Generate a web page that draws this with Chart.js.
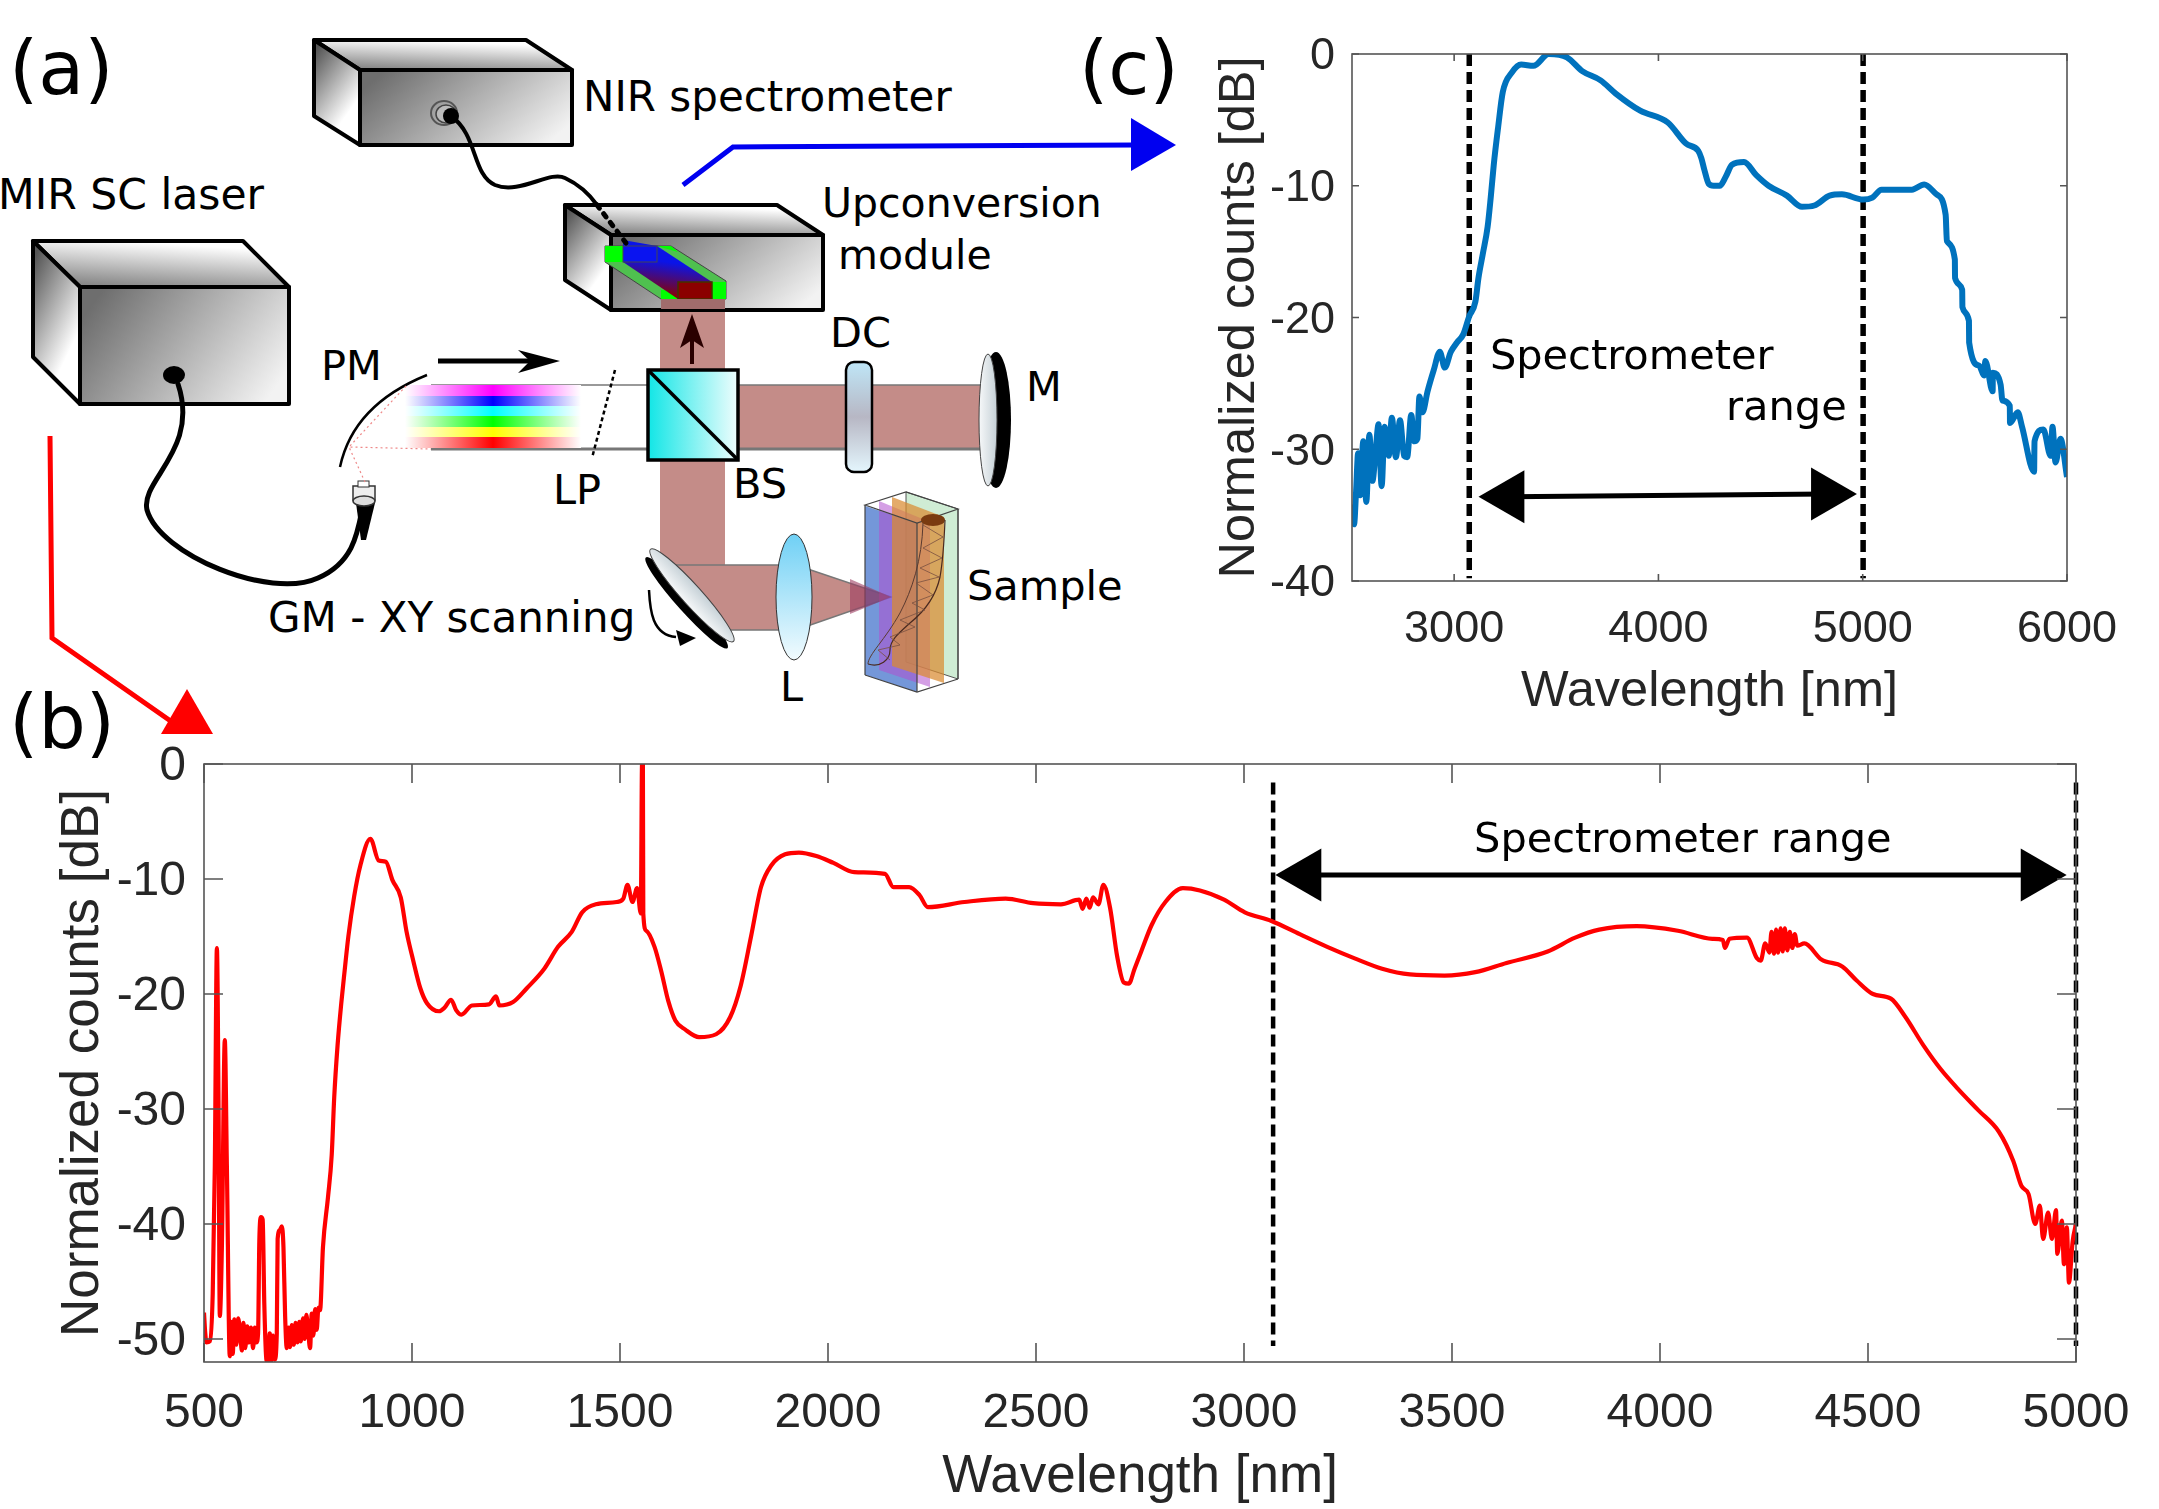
<!DOCTYPE html>
<html>
<head>
<meta charset="utf-8">
<title>MIR supercontinuum upconversion setup and spectra</title>
<script src="https://cdn.jsdelivr.net/npm/chart.js@4/dist/chart.umd.min.js"></script>
<style>
    html, body { margin: 0; padding: 0; background: #fff; }
    #page { position: relative; width: 2159px; height: 1509px; overflow: hidden; }
    #page canvas, #page svg { position: absolute; }
    #chartB { left: 0; top: 719px; }
    #chartC { left: 1180px; top: 0; }
    #setup { left: 0; top: 0; }
    #setup text { font-family: "DejaVu Sans", sans-serif; font-size: 41.5px; fill: #000; }
    #setup text.panel { font-size: 75px; }
</style>
</head>
<body>
<div id="page">
<svg id="setup" width="2159" height="1509" viewBox="0 0 2159 1509">
    <defs>
        <linearGradient id="front" x1="0" x2="1" y1="0.3" y2="0.7"><stop offset="0" stop-color="#6e6e6e"/><stop offset="1" stop-color="#f2f2f2"/></linearGradient>
        <linearGradient id="top" x1="0" x2="0.35" y1="1" y2="0"><stop offset="0" stop-color="#777"/><stop offset="1" stop-color="#fff"/></linearGradient>
        <linearGradient id="side" x1="0.2" x2="0.8" y1="0" y2="1"><stop offset="0" stop-color="#555"/><stop offset="0.75" stop-color="#fff"/></linearGradient>
        <linearGradient id="cube" x1="0" x2="1" y1="0" y2="0"><stop offset="0" stop-color="#12e6e6"/><stop offset="1" stop-color="#effdfd"/></linearGradient>
        <linearGradient id="plate" x1="0" x2="0" y1="0" y2="1"><stop offset="0" stop-color="#bfe6f7"/><stop offset="0.5" stop-color="#b7b7c4"/><stop offset="1" stop-color="#e4f6fd"/></linearGradient>
        <linearGradient id="lens" x1="0" x2="0" y1="0" y2="1"><stop offset="0" stop-color="#6fd0f5"/><stop offset="1" stop-color="#f2fbfe"/></linearGradient>
        <linearGradient id="mirror" x1="0" x2="1" y1="0" y2="0"><stop offset="0" stop-color="#f6f8f9"/><stop offset="1" stop-color="#c5d0d6"/></linearGradient>
        <linearGradient id="crystal" x1="0.5" x2="0.35" y1="0.3" y2="1"><stop offset="0.1" stop-color="#0a14e8"/><stop offset="0.9" stop-color="#8b0000"/></linearGradient>
        <linearGradient id="bMagenta"><stop offset="0" stop-color="#fff"/><stop offset="0.5" stop-color="#ff00ff"/><stop offset="1" stop-color="#fff"/></linearGradient>
        <linearGradient id="bBlue"><stop offset="0" stop-color="#fff"/><stop offset="0.5" stop-color="#0000ff"/><stop offset="1" stop-color="#fff"/></linearGradient>
        <linearGradient id="bCyan"><stop offset="0" stop-color="#fff"/><stop offset="0.5" stop-color="#00ffff"/><stop offset="1" stop-color="#fff"/></linearGradient>
        <linearGradient id="bGreen"><stop offset="0" stop-color="#fff"/><stop offset="0.5" stop-color="#00ff00"/><stop offset="1" stop-color="#fff"/></linearGradient>
        <linearGradient id="bYellow"><stop offset="0" stop-color="#fff"/><stop offset="0.5" stop-color="#ffff00"/><stop offset="1" stop-color="#fff"/></linearGradient>
        <linearGradient id="bRed"><stop offset="0" stop-color="#fff"/><stop offset="0.5" stop-color="#ff0000"/><stop offset="1" stop-color="#fff"/></linearGradient>
    </defs>

    <!-- beams -->
    <g fill="#c48c88">
        <rect x="660" y="298" width="65" height="332" />
        <rect x="738" y="385" width="245" height="64"/>
        <polygon points="660,565 796,565 891,597 796,630 725,630"/>
    </g>
    <polygon points="660,565 725,630 660,630" fill="#fff"/>
    <g stroke="#777" stroke-width="1.5" fill="none">
        <path d="M431 385H984"/><path d="M431 449H984" stroke-width="3"/>
        <path d="M660 565H796L891 597L796 630H725"/>
    </g>

    <!-- rainbow -->
    <rect x="405" y="385" width="176" height="11" fill="url(#bMagenta)"/>
    <rect x="405" y="396" width="176" height="10" fill="url(#bBlue)"/>
    <rect x="405" y="406" width="176" height="10" fill="url(#bCyan)"/>
    <rect x="405" y="416" width="176" height="11" fill="url(#bGreen)"/>
    <rect x="405" y="427" width="176" height="10" fill="url(#bYellow)"/>
    <rect x="405" y="437" width="176" height="11" fill="url(#bRed)"/>

    <!-- boxes -->
    <g stroke="#000" stroke-width="4" stroke-linejoin="round">
        <polygon points="314,40 526,40 572,70 360,70" fill="url(#top)"/>
        <polygon points="314,40 360,70 360,145 314,116" fill="url(#side)"/>
        <rect x="360" y="70" width="212" height="75" fill="url(#front)"/>
        <polygon points="33,241 243,241 289,287 80,287" fill="url(#top)"/>
        <polygon points="33,241 80,287 80,404 33,357" fill="url(#side)"/>
        <rect x="80" y="287" width="209" height="117" fill="url(#front)"/>
        <polygon points="565,205 777,205 823,235 611,235" fill="url(#top)"/>
        <polygon points="565,205 611,235 611,310 565,280" fill="url(#side)"/>
        <rect x="611" y="235" width="212" height="75" fill="url(#front)"/>
    </g>

    <!-- crystal in the upconversion module -->
    <polygon points="605,246 671,246 726,281 726,299 661,299 605,262" fill="#4fc04f" stroke="#444" stroke-width="1"/>
    <polygon points="605,246 623,246 623,262 605,262" fill="#00ff00"/>
    <polygon points="657,246 671,246 678,252" fill="#00ff00"/>
    <rect x="712" y="282" width="14" height="17" fill="#00ff00"/>
    <polygon points="661,290 678,290 678,299 661,299" fill="#00ff00"/>
    <polygon points="623,240 657,246 712,282 712,299 678,299 623,262" fill="url(#crystal)"/>
    <rect x="623" y="246" width="34" height="16" fill="#0a14f0" stroke="#445" stroke-width="1"/>
    <rect x="678" y="282" width="34" height="17" fill="#8b0000" stroke="#443300" stroke-width="1.5"/>
    <rect x="661" y="299" width="64" height="10" fill="#a06c6c"/>

    <!-- fibres -->
    <ellipse cx="444" cy="113" rx="13" ry="12" fill="none" stroke="#555" stroke-width="2"/>
    <ellipse cx="446" cy="114" rx="10" ry="9" fill="#bbb" stroke="#444" stroke-width="1.5"/>
    <ellipse cx="451" cy="116" rx="8" ry="8" fill="#000"/>
    <g fill="none" stroke="#000" stroke-linecap="round">
        <path d="M178 384C200 450 140 480 147 510C160 555 270 600 318 578C355 562 358 530 363 505" stroke-width="5"/>
        <path d="M451 116C478 135 472 175 495 185C520 195 550 170 565 178C580 185 590 195 597 205" stroke-width="4"/>
        <path d="M597 205L626 243" stroke-width="5" stroke-dasharray="4 7"/>
    </g>
    <ellipse cx="174" cy="375" rx="11" ry="9" fill="#000"/>

    <!-- collimator and parabolic mirror -->
    <polygon points="356,503 375,503 366,540 361,540" fill="#000"/>
    <rect x="353" y="486" width="22" height="14" fill="#eee" stroke="#333" stroke-width="1.5"/>
    <ellipse cx="364" cy="501" rx="11" ry="5" fill="#ddd" stroke="#333" stroke-width="1.5"/>
    <rect x="358" y="481" width="11" height="6" fill="#fff" stroke="#333" stroke-width="1"/>
    <path d="M340 467C350 420 385 392 427 375" fill="none" stroke="#000" stroke-width="2.5"/>
    <path d="M365 482L349 447L407 385M365 482L349 447L431 449" fill="none" stroke="#e88" stroke-width="1.2" stroke-dasharray="2 3"/>
    <path d="M615 370L592 458" fill="none" stroke="#000" stroke-width="2.5" stroke-dasharray="4 3"/>

    <!-- beam splitter, dichroic, mirror -->
    <rect x="648" y="370" width="90" height="90" fill="url(#cube)" stroke="#000" stroke-width="3.5"/>
    <path d="M648 370L738 460" stroke="#000" stroke-width="3.5"/>
    <rect x="846" y="362" width="26" height="110" rx="8" fill="url(#plate)" stroke="#000" stroke-width="2.5"/>
    <ellipse cx="996" cy="420" rx="15" ry="68" fill="#000"/>
    <ellipse cx="988" cy="420" rx="9" ry="66" fill="url(#mirror)" stroke="#444" stroke-width="1"/>

    <!-- arrows -->
    <path d="M692 364V325" stroke="#2a0000" stroke-width="4"/>
    <polygon points="692,314 680,348 692,340 704,348" fill="#2a0000"/>
    <path d="M438 361H545" stroke="#000" stroke-width="5"/>
    <polygon points="560,361 518,350 530,361 518,373" fill="#000"/>
    <path d="M683 185L733 147L1135 145" fill="none" stroke="#0000f0" stroke-width="5"/>
    <polygon points="1176,145 1131,118 1131,171" fill="#0000f0"/>
    <path d="M50 436L52 638L172 722" fill="none" stroke="#f00" stroke-width="5"/>
    <polygon points="187,689 161,734 213,734" fill="#f00"/>

    <!-- galvo mirror and lens -->
    <g transform="rotate(-42 689 598)">
        <ellipse cx="684" cy="600" rx="9" ry="61" fill="#000"/>
        <ellipse cx="693" cy="598" rx="10" ry="62" fill="url(#mirror)" stroke="#444" stroke-width="1"/>
    </g>
    <path d="M649 590C650 610 652 635 676 637" fill="none" stroke="#000" stroke-width="2.5"/>
    <polygon points="696,638 676,630 680,646" fill="#000"/>
    <ellipse cx="794" cy="597" rx="18" ry="63" fill="url(#lens)" stroke="#333" stroke-width="1"/>

    <!-- sample layers -->
    <polygon points="906,492 958,509 958,679 906,662" fill="#a7dcb0" fill-opacity="0.55" stroke="#555" stroke-width="1"/>
    <polygon points="865,506 917,523 917,692 865,675" fill="#2a5fc4" fill-opacity="0.65"/>
    <polygon points="879,501 930,522 930,687 879,670" fill="#b050d0" fill-opacity="0.55"/>
    <polygon points="892,497 944,517 944,683 892,666" fill="#d98a30" fill-opacity="0.72"/>
    <g fill="none" stroke="#444" stroke-width="1.2">
        <path d="M865 505L906 492L958 509L917 523Z"/>
        <path d="M865 675L917 692L958 679"/>
        <path d="M917 523V692M865 505V675M958 509V679"/>
    </g>
    <polygon points="850,579 891,597 850,614" fill="#9c3c60" fill-opacity="0.6"/>
    <ellipse cx="933" cy="520" rx="12" ry="6" fill="#7a3b10"/>
    <path d="M945 520C944 545 943 560 940 577C935 600 920 615 910 623C900 632 890 640 890 650C890 660 880 668 868 664" fill="none" stroke="#4a2a20" stroke-width="1.2"/>
    <path d="M923 523C922 560 912 590 900 613C885 640 868 655 868 664" fill="none" stroke="#5a3a30" stroke-width="1"/>
    <path d="M923 525L943 537L923 548L942 558L920 568L939 577L916 583L933 595L912 603L925 610L900 620L915 627L890 637L900 645L878 650L890 660" fill="none" stroke="#7a5040" stroke-width="0.8"/>

    <!-- labels -->
    <text class="panel" x="9" y="94">(a)</text>
    <text class="panel" x="9" y="748">(b)</text>
    <text class="panel" x="1079" y="94">(c)</text>
    <text x="583" y="111" style="font-size:42px">NIR spectrometer</text>
    <text x="-2" y="209" style="font-size:42.5px">MIR SC laser</text>
    <text x="822" y="217" style="font-size:41px">Upconversion</text>
    <text x="838" y="269" style="font-size:41px">module</text>
    <text x="321" y="380">PM</text>
    <text x="830" y="347">DC</text>
    <text x="1026" y="401">M</text>
    <text x="553" y="504">LP</text>
    <text x="733" y="498">BS</text>
    <text x="967" y="600">Sample</text>
    <text x="268" y="632" style="font-size:42px">GM - XY scanning</text>
    <text x="780" y="701">L</text>
</svg>
<canvas id="chartB" width="2159" height="790"></canvas>
<canvas id="chartC" width="979" height="740"></canvas>
</div>

<script>
// (b) full supercontinuum spectrum
var wavelengthB = [500, 503, 506, 514, 521, 526, 531, 535, 538, 543, 550, 555, 562,
    565, 569, 573, 578, 582, 587, 591, 595, 599, 604, 608, 613, 618, 622, 626, 630,
    633, 637, 641, 645, 650, 654, 658, 662, 666, 670, 675, 677, 683, 687, 691, 695, 699,
    703, 707, 711, 716, 720, 725, 729, 733, 738, 742, 746, 751, 755, 759, 763, 767, 771, 775, 779,
    786, 798, 807, 813, 821, 830, 838, 847, 861, 876, 900, 920, 937, 953, 973, 987, 1003, 1020, 1036,
    1065, 1078, 1094, 1106, 1119, 1144, 1185, 1202, 1210, 1243, 1276, 1318, 1351, 1384, 1409, 1442, 1492, 1508, 1518, 1530, 1541, 1550,
    1553, 1555, 1556, 1563, 1583, 1599, 1616, 1633, 1657, 1690, 1731, 1765, 1790, 1815, 1839, 1864, 1897, 1930, 1972,
    2013, 2063, 2137, 2157, 2195, 2220, 2240, 2328, 2427, 2493, 2560, 2604, 2612, 2621, 2629, 2637, 2650, 2662,
    2678, 2695, 2711, 2723, 2737, 2753, 2778, 2811, 2853, 2894, 2952, 3002, 3066, 3134, 3200, 3266, 3332, 3399, 3482, 3556, 3631,
    3730, 3796, 3854, 3944, 4043, 4126, 4151, 4156, 4167, 4209, 4233, 4242, 4253, 4263, 4268, 4274, 4279, 4284, 4290, 4295, 4300, 4306, 4312, 4318, 4324, 4330,
    4347, 4388, 4438, 4472, 4512, 4555, 4590, 4632, 4674, 4715, 4765, 4815, 4849, 4869, 4886, 4902, 4913, 4921, 4933, 4942, 4952, 4955, 4966, 4971, 4978, 4983, 4992, 5000];
var countsB = [-47.7, -49.5, -50.3, -50.2, -46, -35, -16, -30, -48, -42, -24, -35, -51.5,
    -48.5, -51.3, -48.3, -50.5, -48.2, -49.5, -51, -48.6, -50.8, -48.9, -50.3, -49, -50.8, -49, -50.3, -49.5,
    -41.5, -39.4, -39.6, -47, -51.8, -52, -49.5, -51.9, -49.7, -51.8, -49.5, -41.3, -40.5, -40.2, -42, -48, -50.8,
    -49, -50.7, -48.8, -50.5, -48.6, -50.3, -48.5, -50.2, -48.2, -50, -47.9, -49.6, -50.8, -47.8, -49.7, -47.4, -49.2, -47.3, -47.5,
    -42, -37.7, -34, -29, -24.5, -20.8, -18, -15, -11.5, -8.8, -6.5, -8.4, -8.5, -10.1, -11.6, -14.6, -17.1, -19.5, -20.8,
    -21.5, -21.2, -20.5, -21.4, -21.8, -21, -20.9, -20.2, -21, -20.7, -19.5, -17.8, -15.9, -14.6, -12.9, -12.2, -12, -11.7, -10.5, -12, -10.8, -13,
    0, 0, -13, -14.5, -15.9, -18, -20.6, -22.3, -23.1, -23.75, -23.5, -22, -19.3, -15, -10.7, -8.8, -7.85, -7.7, -8,
    -8.6, -9.4, -9.55, -10.7, -10.7, -11.4, -12.45, -12, -11.7, -12.1, -12.2, -11.8, -12.6, -11.7, -12.5, -11.6, -12.2, -10.5,
    -12.5, -16.7, -19, -19.1, -17.8, -16.3, -14, -12, -10.8, -11, -11.8, -12.9, -13.65, -14.8, -15.9, -16.9, -17.8, -18.3, -18.4, -18.1, -17.3,
    -16.3, -15.1, -14.4, -14.1, -14.5, -15.2, -15.3, -16, -15.2, -15.1, -16.9, -17.1, -15.6, -16.4, -14.6, -16.5, -14.4, -16.4, -14.3, -16.3, -14.3, -16.2, -14.6, -16, -14.8, -15.8,
    -15.6, -17, -17.6, -18.8, -20, -20.4, -22, -24.4, -26.5, -28.2, -30.1, -32, -34.5, -36.7, -37.4, -40, -38.4, -41.3, -39, -41.3, -38.8, -42.6, -39.7, -43.5, -40.3, -45.1, -41.5, -40];
var xTicksB = [500, 1000, 1500, 2000, 2500, 3000, 3500, 4000, 4500, 5000];
var yTicksB = [0, -10, -20, -30, -40, -50];

// (c) spectrum through the upconversion module
var wavelengthC = [2500, 2510, 2520, 2530, 2540, 2555, 2570, 2585, 2600, 2615, 2630, 2645, 2660, 2680, 2695, 2715, 2735, 2755, 2770, 2790, 2805, 2820, 2830, 2845, 2870, 2900, 2930,
    2954, 2984, 3014, 3044, 3074, 3104, 3119, 3140, 3164, 3179, 3194, 3215, 3238, 3283, 3328, 3388, 3463, 3552, 3627, 3717, 3791, 3911, 4046, 4135, 4195, 4210, 4225, 4246, 4270, 4300, 4330, 4360, 4419, 4479, 4539, 4629, 4703, 4763, 4838, 4898, 5002, 5047, 5092, 5241, 5301, 5361, 5406,
    5412, 5451, 5452, 5487, 5488, 5520, 5521, 5570, 5594, 5600, 5636, 5637, 5675, 5684, 5720, 5721, 5759, 5780, 5839, 5841, 5884, 5920, 5929, 5944, 5968, 6000];
var countsC = [-34.2, -35.7, -33.2, -30.3, -33.5, -29.4, -34, -28.9, -32.4, -30.3, -28.1, -32.8, -28.3, -30.5, -27.6, -30.6, -27.8, -30.5, -30.6, -27.4, -29.4, -29.2, -26, -27.2, -25.6, -24, -22.6,
    -23.8, -22.6, -21.9, -21.3, -19.9, -18.8, -17, -15.2, -13.1, -10.9, -8.4, -5.6, -2.9, -1.4, -0.8, -0.9, 0, -0.25, -1.3, -2, -3, -4.3, -5.2, -6.8, -7.35, -7.9, -8.8, -9.85, -10, -10, -9.3, -8.4, -8.2, -9.2, -10, -10.75, -11.6, -11.5, -10.75, -10.65, -11.05, -10.9, -10.3, -10.3, -9.9, -10.65, -12.2,
    -14.2, -15.6, -17, -17.9, -19.2, -20.25, -21.9, -23.65, -24.4, -23.3, -25.6, -24.2, -25.1, -26.3, -26.7, -28, -27.2, -28.3, -31.7, -29.4, -28.5, -30.5, -28.3, -31, -29.2, -32.1];
var xTicksC = [3000, 4000, 5000, 6000];
var yTicksC = [0, -10, -20, -30, -40];

// spectrometer range markers
var rangeEdgesB = [3070, 5000];
var rangeEdgesC = [3074, 5002];
var rangeSpanB = [-1.6, -50.6];
var rangeSpanC = [0, -39.8];
var arrowXB = [3149, 4904];
var arrowYB = [-9.65, -9.65];
var arrowXC = [3269, 4822];
var arrowYC = [-33.6, -33.4];
var labelTextB = ["Spectrometer range"];
var labelXB = [3553];
var labelYB = [-7.67];
var labelTextC = ["Spectrometer", "range"];
var labelXC = [3175, 4331];
var labelYC = [-23.9, -27.8];

function zipPoints(xs, ys) {
    return xs.map(function (x, i) { return { x: x, y: ys[i] }; });
}

// matlab style box with the ticks pointing inwards, on all four sides
var boxTicks = {
    id: 'boxTicks',
    afterDatasetsDraw: function (chart, args, opts) {
        var a = chart.chartArea, c = chart.ctx;
        c.save();
        c.strokeStyle = '#555';
        c.lineWidth = 1.6;
        c.strokeRect(a.left, a.top, a.right - a.left, a.bottom - a.top);
        c.beginPath();
        chart.scales.x.ticks.forEach(function (t) {
            var p = chart.scales.x.getPixelForValue(t.value);
            c.moveTo(p, a.bottom); c.lineTo(p, a.bottom - opts.length);
            c.moveTo(p, a.top); c.lineTo(p, a.top + opts.length);
        });
        chart.scales.y.ticks.forEach(function (t) {
            var p = chart.scales.y.getPixelForValue(t.value);
            c.moveTo(a.left, p); c.lineTo(a.left + opts.length, p);
            c.moveTo(a.right, p); c.lineTo(a.right - opts.length, p);
        });
        c.stroke();
        c.restore();
    }
};

// text placed in data coordinates
var rangeText = {
    id: 'rangeText',
    afterDatasetsDraw: function (chart, args, opts) {
        var c = chart.ctx;
        c.save();
        c.font = '41.5px "DejaVu Sans"';
        c.fillStyle = '#000';
        c.textBaseline = 'alphabetic';
        opts.text.forEach(function (s, i) {
            c.fillText(s, chart.scales.x.getPixelForValue(opts.xs[i]), chart.scales.y.getPixelForValue(opts.ys[i]));
        });
        c.restore();
    }
};

function makeChart(id, cfg) {
    var tickFont = { family: 'Liberation Sans', size: cfg.tickSize };
    var titleFont = { family: 'Liberation Sans', size: cfg.titleSize };
    return new Chart(document.getElementById(id), {
        type: 'line',
        data: {
            datasets: [
                {
                    data: zipPoints(cfg.xs, cfg.ys),
                    borderColor: cfg.color,
                    borderWidth: cfg.lineWidth,
                    pointRadius: 0,
                    cubicInterpolationMode: 'monotone',
                    order: 0
                },
                {
                    data: zipPoints([cfg.edges[0], cfg.edges[0]], cfg.span),
                    borderColor: '#000', borderWidth: cfg.dashWidth, borderDash: [12, 6],
                    pointRadius: 0, order: 1, clip: false
                },
                {
                    data: zipPoints([cfg.edges[1], cfg.edges[1]], cfg.span),
                    borderColor: '#000', borderWidth: cfg.dashWidth, borderDash: [12, 6],
                    pointRadius: 0, order: 1, clip: false
                },
                {
                    // double headed arrow, the triangles are point markers
                    data: zipPoints(cfg.arrowX, cfg.arrowY),
                    borderColor: '#000',
                    backgroundColor: '#000',
                    borderWidth: 5,
                    pointStyle: 'triangle',
                    pointRadius: 30.6,
                    pointBorderWidth: 0,
                    pointRotation: [-90, 90],
                    order: 2
                }
            ]
        },
        plugins: [boxTicks, rangeText],
        options: {
            responsive: false,
            animation: false,
            devicePixelRatio: 1,
            layout: { padding: cfg.padding },
            plugins: {
                legend: { display: false },
                tooltip: { enabled: false },
                boxTicks: { length: cfg.tickLength },
                rangeText: { text: cfg.labelText, xs: cfg.labelX, ys: cfg.labelY }
            },
            scales: {
                x: {
                    type: 'linear',
                    min: cfg.xRange[0], max: cfg.xRange[1],
                    grid: { display: false },
                    border: { display: false },
                    afterBuildTicks: function (s) { s.ticks = cfg.xTicks.map(function (v) { return { value: v }; }); },
                    afterFit: function (s) { s.height = cfg.xAxisHeight; },
                    ticks: {
                        font: tickFont, color: '#262626', maxRotation: 0, autoSkip: false, padding: cfg.xTickPad,
                        callback: function (v) { return String(v); }
                    },
                    title: { display: true, text: 'Wavelength [nm]', font: titleFont, color: '#262626', padding: 0 }
                },
                y: {
                    type: 'linear',
                    min: cfg.yRange[0], max: cfg.yRange[1],
                    grid: { display: false },
                    border: { display: false },
                    afterBuildTicks: function (s) { s.ticks = cfg.yTicks.map(function (v) { return { value: v }; }); },
                    afterFit: function (s) { s.width = cfg.yAxisWidth; },
                    ticks: {
                        font: tickFont, color: '#262626', autoSkip: false, padding: cfg.yTickPad, labelOffset: 3,
                        callback: function (v) { return String(v); }
                    },
                    title: { display: true, text: 'Normalized counts [dB]', font: titleFont, color: '#262626', padding: 0 }
                }
            }
        }
    });
}

makeChart('chartB', {
    xs: wavelengthB, ys: countsB, color: '#ff0000', lineWidth: 4.2,
    edges: rangeEdgesB, span: rangeSpanB, dashWidth: 4.5,
    arrowX: arrowXB, arrowY: arrowYB,
    labelText: labelTextB, labelX: labelXB, labelY: labelYB,
    xTicks: xTicksB, yTicks: yTicksB, xRange: [500, 5000], yRange: [-52, 0],
    tickSize: 48, titleSize: 53, tickLength: 19,
    padding: { left: 52, right: 83, top: 45, bottom: 0 },
    yAxisWidth: 152, xAxisHeight: 147, xTickPad: 15, yTickPad: 10
});

makeChart('chartC', {
    xs: wavelengthC, ys: countsC, color: '#0072bd', lineWidth: 6,
    edges: rangeEdgesC, span: rangeSpanC, dashWidth: 5.5,
    arrowX: arrowXC, arrowY: arrowYC,
    labelText: labelTextC, labelX: labelXC, labelY: labelYC,
    xTicks: xTicksC, yTicks: yTicksC, xRange: [2500, 6000], yRange: [-40, 0],
    tickSize: 45, titleSize: 50.5, tickLength: 7,
    padding: { left: 30, right: 92, top: 54, bottom: 18 },
    yAxisWidth: 142, xAxisHeight: 141, xTickPad: 14, yTickPad: 9
});
</script>
</body>
</html>
